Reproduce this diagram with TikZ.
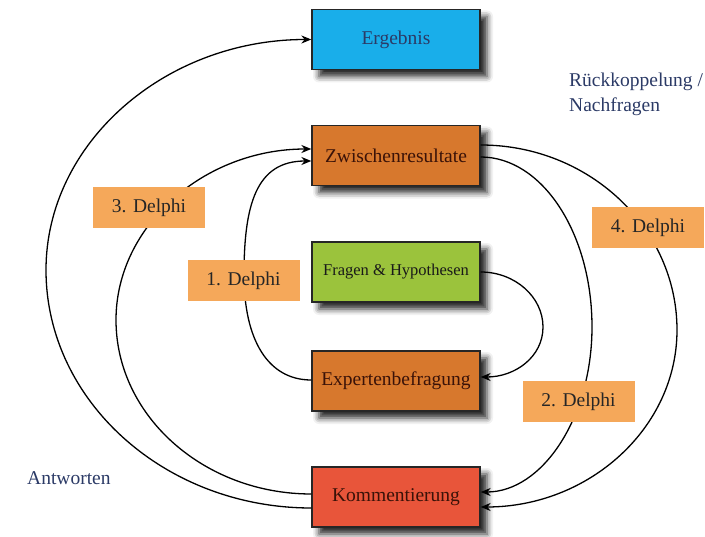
\documentclass[tikz,border=0pt]{standalone}
\usepackage{fontspec}
\setmainfont{Liberation Serif}
\usetikzlibrary{arrows.meta,calc,shadows.blur}
\definecolor{cErg}{HTML}{19AEEA}
\definecolor{cZw}{HTML}{D7782D}
\definecolor{cFr}{HTML}{9BC33C}
\definecolor{cKo}{HTML}{E8553A}
\definecolor{cDel}{HTML}{F5A85A}
\definecolor{cNavy}{HTML}{2B3A66}
\definecolor{cDark}{HTML}{3A1208}
\tikzset{
  box/.style={draw=black!85, line width=1.3pt, minimum width=168pt, minimum height=60pt, inner sep=0pt,
    font=\fontsize{19.5}{22}\selectfont,
    blur shadow={shadow xshift=7pt, shadow yshift=-7pt, shadow blur radius=6pt, shadow opacity=85}},
  delphi/.style={fill=cDel, minimum width=112pt, minimum height=41pt, inner sep=0pt, text=black!85,
    font=\fontsize{19.5}{22}\selectfont},
  conn/.style={line width=1.3pt, black},
  arr/.style={conn, -{Stealth[length=10pt,width=8pt]}},
  note/.style={text=cNavy, font=\fontsize{19.5}{25}\selectfont, align=left, inner sep=0pt}
}
\begin{document}
\begin{tikzpicture}[x=1pt,y=-1pt]
\useasboundingbox (0,0) rectangle (705,537);
% boxes
\node[box, fill=cErg, text=cNavy] (erg) at (396,39.5) {Ergebnis};
\node[box, fill=cZw, text=cDark] (zw) at (396,155.5) {Zwischenresultate};
\node[box, fill=cFr, text=black!90, font=\fontsize{16.5}{19}\selectfont] (fr) at (396,272) {Fragen \& Hypothesen};
\node[box, fill=cZw, text=cDark] (ex) at (396,381) {Expertenbefragung};
\node[box, fill=cKo, text=cDark] (ko) at (396,497) {Kommentierung};
% connectors left
\draw[arr] ($(ko.west)+(0,11)$) .. controls (165,508) and (46,401) .. (46,270)
  .. controls (46,143) and (165,39.5) .. (erg.west);
\draw[arr] ($(ko.west)+(0,-3)$) .. controls (204,494) and (116,416) .. (116,320)
  .. controls (116,226) and (204,149) .. ($(zw.west)+(0,-6.5)$);
\draw[arr] ($(ex.west)+(0,-1)$) .. controls (268,380) and (244,340) .. (244,275)
  .. controls (244,205) and (256,161) .. ($(zw.west)+(0,5.5)$);
% connectors right
\draw[arr] (fr.east) .. controls (515,272) and (543,297) .. (543,327)
  .. controls (543,357) and (515,377) .. ($(ex.east)+(0,-4)$);
\draw[arr] ($(zw.east)+(0,1.5)$) .. controls (542,157) and (592,233) .. (592,327)
  .. controls (592,418) and (542,492) .. ($(ko.east)+(0,-5)$);
\draw[arr] ($(zw.east)+(0,-10.5)$) .. controls (589,145) and (677,228) .. (677,330)
  .. controls (677,428) and (589,507) .. ($(ko.east)+(0,10)$);
% labels
\node[delphi] (d3) at (149,207.5) {3. Delphi};
\node[delphi] (d1) at (243.5,280.5) {1. Delphi};
\node[delphi] (d4) at (648,228) {4. Delphi};
\node[delphi] (d2) at (578.5,402) {2. Delphi};
% notes
\node[note, anchor=north west] (rk) at (569,73) {Rückkoppelung /\\Nachfragen};
\node[note, anchor=west] (aw) at (27,478) {Antworten};
\end{tikzpicture}
\end{document}
